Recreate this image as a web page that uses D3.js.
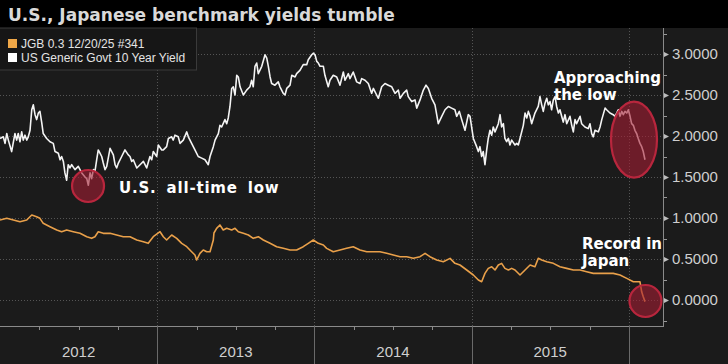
<!DOCTYPE html>
<html><head><meta charset="utf-8">
<script src="https://cdn.jsdelivr.net/npm/d3@7"></script>
<style>html,body{margin:0;padding:0;background:#000;}svg{display:block;}</style>
</head><body>
<svg id="c" width="728" height="364"></svg>
<script>
// ---- DATA (time = years since 1 Jan 2012) ----
const START_YEAR = 2012;
const yearLabels = ["2012","2013","2014","2015"];
const yTicks = [0, 0.5, 1, 1.5, 2, 2.5, 3];
const seriesNames = ["JGB 0.3 12/20/25 #341", "US Generic Govt 10 Year Yield"];

const usT = [0,.021,.032,.043,.053,.074,.095,.106,.116,.127,.138,.148,.159,.170,.180,.191,.202,.212,.223,.233,.244,.254,.265,.275,.297,.318,.339,.350,.371,.382,.392,.403,.413,.424,.434,.445,.456,.477,.498,.509,.520,.541,.552,.562,.573,.583,.594,.604,.615,.625,.636,.647,.657,.668,.679,.700,.721,.732,.742,.753,.774,.795,.816,.827,.838,.848,.870,.891,.912,.933,.954,.965,.975,.997,1.007,1.029,1.039,1.060,1.071,1.092,1.102,1.113,1.134,1.145,1.166,1.188,1.198,1.219,1.240,1.261,1.283,1.304,1.325,1.336,1.357,1.368,1.389,1.399,1.410,1.431,1.442,1.452,1.463,1.474,1.484,1.495,1.506,1.516,1.527,1.548,1.569,1.590,1.601,1.611,1.622,1.633,1.643,1.665,1.686,1.697,1.707,1.718,1.728,1.749,1.770,1.781,1.802,1.813,1.824,1.845,1.856,1.877,1.887,1.908,1.929,1.951,1.961,1.983,1.993,2.004,2.015,2.025,2.036,2.057,2.067,2.088,2.099,2.120,2.142,2.163,2.184,2.195,2.216,2.226,2.247,2.269,2.290,2.301,2.322,2.343,2.364,2.375,2.396,2.407,2.428,2.449,2.470,2.492,2.513,2.534,2.545,2.566,2.587,2.597,2.619,2.640,2.651,2.672,2.693,2.710,2.725,2.746,2.767,2.788,2.810,2.831,2.852,2.873,2.894,2.905,2.922,2.937,2.958,2.979,2.990,3.011,3.032,3.043,3.053,3.064,3.074,3.085,3.096,3.106,3.117,3.128,3.138,3.149,3.170,3.181,3.191,3.202,3.212,3.223,3.234,3.244,3.255,3.276,3.287,3.297,3.308,3.329,3.340,3.351,3.361,3.372,3.382,3.403,3.424,3.435,3.446,3.456,3.467,3.478,3.488,3.499,3.509,3.520,3.531,3.541,3.552,3.562,3.573,3.583,3.594,3.605,3.626,3.637,3.647,3.658,3.668,3.690,3.700,3.721,3.742,3.753,3.764,3.774,3.785,3.806,3.817,3.828,3.849,3.859,3.880,3.901,3.912,3.923,3.933,3.944,3.955,3.965,3.976,3.987,3.997,4.008,4.018,4.029,4.039,4.050,4.060,4.071,4.082,4.092,4.103];
const usYield = [1.97,1.99,1.91,2.03,1.95,1.81,2.03,1.95,2.03,1.93,2.05,1.95,2.01,1.95,1.99,2.07,2.32,2.38,2.26,2.20,2.28,2.30,2.17,2.03,1.97,1.93,1.91,1.81,1.79,1.71,1.75,1.69,1.55,1.46,1.65,1.61,1.65,1.59,1.63,1.59,1.55,1.50,1.48,1.40,1.55,1.48,1.59,1.57,1.71,1.83,1.79,1.75,1.67,1.59,1.63,1.85,1.77,1.65,1.61,1.67,1.75,1.83,1.77,1.75,1.69,1.71,1.61,1.65,1.69,1.61,1.75,1.71,1.81,1.75,1.89,1.83,1.83,1.87,1.97,1.99,1.95,2.01,1.99,1.91,1.95,2.05,1.99,1.91,1.83,1.75,1.73,1.71,1.65,1.75,1.87,1.95,2.03,2.13,2.11,2.20,2.15,2.22,2.36,2.58,2.60,2.50,2.74,2.72,2.60,2.50,2.56,2.60,2.68,2.60,2.85,2.89,2.76,2.85,2.99,2.95,2.85,2.72,2.64,2.62,2.66,2.60,2.52,2.50,2.58,2.62,2.74,2.72,2.76,2.80,2.87,2.87,2.93,2.99,3.01,2.99,2.91,2.89,2.85,2.85,2.74,2.60,2.68,2.74,2.72,2.62,2.78,2.68,2.76,2.70,2.78,2.66,2.64,2.70,2.68,2.64,2.52,2.58,2.50,2.46,2.60,2.64,2.62,2.60,2.52,2.56,2.46,2.52,2.56,2.48,2.42,2.44,2.34,2.44,2.56,2.62,2.58,2.46,2.38,2.15,2.24,2.32,2.36,2.34,2.32,2.24,2.30,2.20,2.07,2.26,2.24,1.97,1.87,1.81,1.87,1.75,1.81,1.65,1.83,1.97,2.07,2.01,2.11,2.05,2.15,2.26,2.11,2.15,1.97,1.93,1.97,1.89,1.95,1.89,1.91,1.89,1.97,2.13,2.28,2.22,2.30,2.24,2.15,2.28,2.36,2.48,2.38,2.30,2.40,2.46,2.38,2.42,2.32,2.44,2.48,2.36,2.28,2.32,2.24,2.17,2.26,2.15,2.24,2.13,2.05,2.20,2.15,2.24,2.15,2.11,2.09,2.15,2.03,1.99,2.07,2.05,2.11,2.20,2.34,2.32,2.28,2.26,2.24,2.28,2.32,2.24,2.30,2.26,2.30,2.28,2.32,2.24,2.15,2.13,2.07,2.03,1.97,1.91,1.87,1.81,1.71];

const jgbT = [0,.043,.085,.127,.170,.202,.233,.254,.275,.318,.361,.392,.424,.466,.509,.552,.583,.604,.625,.657,.700,.742,.784,.827,.870,.912,.943,.975,1.018,1.039,1.060,1.092,1.124,1.156,1.188,1.219,1.240,1.251,1.272,1.293,1.315,1.336,1.357,1.361,1.378,1.399,1.420,1.442,1.474,1.495,1.516,1.548,1.580,1.611,1.643,1.675,1.718,1.760,1.802,1.845,1.887,1.929,1.961,1.993,2.025,2.057,2.078,2.120,2.163,2.205,2.247,2.290,2.333,2.375,2.417,2.460,2.502,2.545,2.587,2.629,2.672,2.704,2.735,2.778,2.820,2.863,2.894,2.926,2.969,3.011,3.043,3.064,3.085,3.106,3.128,3.149,3.170,3.191,3.212,3.234,3.255,3.276,3.308,3.340,3.372,3.403,3.424,3.446,3.478,3.520,3.562,3.605,3.647,3.690,3.732,3.774,3.817,3.859,3.901,3.944,3.987,4.029,4.071,4.082,4.092,4.103];
const jgbYield = [0.976,0.996,0.976,0.955,0.976,1.037,1.016,0.996,0.935,0.894,0.854,0.833,0.854,0.833,0.813,0.772,0.752,0.772,0.833,0.813,0.813,0.793,0.772,0.772,0.732,0.711,0.691,0.772,0.833,0.772,0.732,0.793,0.752,0.691,0.650,0.589,0.549,0.488,0.569,0.610,0.589,0.589,0.732,0.817,0.874,0.915,0.854,0.874,0.854,0.874,0.833,0.813,0.793,0.752,0.772,0.732,0.691,0.650,0.630,0.610,0.610,0.650,0.691,0.732,0.691,0.671,0.630,0.589,0.610,0.630,0.650,0.610,0.589,0.589,0.589,0.569,0.549,0.528,0.528,0.508,0.528,0.569,0.528,0.488,0.467,0.508,0.447,0.427,0.366,0.305,0.244,0.223,0.325,0.386,0.406,0.366,0.427,0.447,0.386,0.366,0.386,0.366,0.305,0.366,0.427,0.406,0.508,0.488,0.467,0.447,0.406,0.386,0.366,0.366,0.345,0.325,0.325,0.325,0.325,0.305,0.264,0.223,0.223,0.10,0.04,-0.02];

// annotations: [t, value] in data space
const circles = [
  {t: 0.560, v: 1.39, rx: 16, ry: 16},
  {t: 4.033, v: 1.957, rx: 23, ry: 38},
  {t: 4.106, v: -0.012, rx: 16, ry: 16}
];
const notes = [
  {t: 0.757, v: 1.31, lines: ["U.S. all-time low"], ls: 0.8, ws: 4},
  {t: 3.524, v: 2.65, lines: ["Approaching", "the low"], ls: 0, ws: 0},
  {t: 3.702, v: 0.618, lines: ["Record in", "Japan"], ls: 0, ws: 0}
];

// ---- LAYOUT ----
const W = 728, H = 364, TOP = 28, PLOT_R = 663, PLOT_B = 326;
const svg = d3.select("#c");
const x = d3.scaleLinear().domain([0, 4]).range([0, 628.8]);
const y = d3.scaleLinear().domain([0, 3]).range([300, 54]);

svg.append("rect").attr("width", W).attr("height", H).attr("fill", "#000");
svg.append("rect").attr("y", TOP).attr("width", W).attr("height", H - TOP).attr("fill", "#1b1b1b");

svg.append("text").attr("x", 8).attr("y", 21)
  .attr("font-family", "DejaVu Sans").attr("font-weight", "bold").attr("font-size", 17)
  .attr("fill", "#d9d9d9").text("U.S., Japanese benchmark yields tumble");

// grid
const grid = svg.append("g").attr("stroke", "#555").attr("stroke-dasharray", "1,2").attr("stroke-width", 1);
grid.selectAll("line.h").data(yTicks).join("line").attr("class", "h")
  .attr("x1", 0).attr("x2", PLOT_R).attr("y1", d => Math.round(y(d)) + 0.5).attr("y2", d => Math.round(y(d)) + 0.5);
grid.selectAll("line.v").data([1, 2, 3, 4]).join("line").attr("class", "v")
  .attr("x1", d => Math.round(x(d)) + 0.5).attr("x2", d => Math.round(x(d)) + 0.5).attr("y1", TOP).attr("y2", PLOT_B);

// lines
const line = d3.line().x(d => x(d[0])).y(d => y(d[1]));
const jgb = jgbT.map((t, i) => [t, jgbYield[i]]);
const us = usT.map((t, i) => [t, usYield[i]]);
svg.append("path").datum(jgb).attr("d", line).attr("fill", "none")
  .attr("stroke", "#e9a04a").attr("stroke-width", 1.6).attr("stroke-linejoin", "round");
svg.append("path").datum(us).attr("d", line).attr("fill", "none")
  .attr("stroke", "#f4f4f4").attr("stroke-width", 1.6).attr("stroke-linejoin", "round");

// right axis
const axisG = svg.append("g").attr("transform", `translate(${PLOT_R},0)`)
  .call(d3.axisRight(y).tickValues(yTicks).tickFormat(d3.format(".4f")).tickSize(0).tickPadding(9));
axisG.select(".domain").remove();
axisG.selectAll("text").attr("font-family", "Liberation Sans").attr("font-size", 15).attr("fill", "#cfcfcf");
axisG.selectAll(".tick").append("path").attr("d", "M1,-2.5L6,0L1,2.5Z").attr("fill", "#bdbdbd");
const minor = d3.range(-0.25, 3.3, 0.25).filter(v => !yTicks.includes(v));
svg.append("g").selectAll("line").data(minor).join("line")
  .attr("x1", PLOT_R).attr("x2", PLOT_R + 4).attr("y1", d => Math.round(y(d)) + 0.5).attr("y2", d => Math.round(y(d)) + 0.5)
  .attr("stroke", "#999");
svg.append("line").attr("x1", PLOT_R + 0.5).attr("x2", PLOT_R + 0.5).attr("y1", TOP).attr("y2", PLOT_B)
  .attr("stroke", "#8a8a8a");

// bottom axis
svg.append("line").attr("x1", 0).attr("x2", PLOT_R + 1).attr("y1", PLOT_B + 0.5).attr("y2", PLOT_B + 0.5).attr("stroke", "#8a8a8a");
const quarters = d3.range(0.25, 4.2, 0.25).filter(q => Math.abs(q - Math.round(q)) > 0.01 && x(q) < PLOT_R);
svg.append("g").selectAll("line").data(quarters).join("line")
  .attr("x1", d => Math.round(x(d)) + 0.5).attr("x2", d => Math.round(x(d)) + 0.5)
  .attr("y1", PLOT_B).attr("y2", PLOT_B + 4).attr("stroke", "#8a8a8a");
svg.append("g").selectAll("line").data([1, 2, 3, 4]).join("line")
  .attr("x1", d => Math.round(x(d)) + 0.5).attr("x2", d => Math.round(x(d)) + 0.5)
  .attr("y1", PLOT_B).attr("y2", H).attr("stroke", "#6a6a6a");
svg.append("g").selectAll("text").data(yearLabels).join("text")
  .attr("x", (d, i) => x(i + 0.5)).attr("y", 357).attr("text-anchor", "middle")
  .attr("font-family", "Liberation Sans").attr("font-size", 15).attr("fill", "#cfcfcf").text(d => d);

// annotation circles
svg.append("g").selectAll("ellipse").data(circles).join("ellipse")
  .attr("cx", d => x(d.t)).attr("cy", d => y(d.v)).attr("rx", d => d.rx).attr("ry", d => d.ry)
  .attr("fill", "rgba(165,30,52,0.6)").attr("stroke", "#b8263d").attr("stroke-width", 2.2);

// annotation text
const nt = svg.append("g").selectAll("text").data(notes).join("text")
  .attr("x", d => x(d.t)).attr("y", d => y(d.v))
  .attr("letter-spacing", d => d.ls).attr("word-spacing", d => d.ws)
  .attr("font-family", "DejaVu Sans").attr("font-weight", "bold").attr("font-size", 15).attr("fill", "#ffffff");
nt.selectAll("tspan").data(d => d.lines.map(l => ({l, t: d.t}))).join("tspan")
  .attr("x", d => x(d.t)).attr("dy", (d, i) => i ? 17 : 0).text(d => d.l);

// legend
const lg = svg.append("g");
lg.append("rect").attr("x", -1).attr("y", TOP).attr("width", 197.5).attr("height", 42)
  .attr("fill", "#161616").attr("stroke", "#3a3a3a");
const colors = ["#f0a848", "#ffffff"];
seriesNames.forEach((n, i) => {
  lg.append("rect").attr("x", 8).attr("y", 39 + i * 14).attr("width", 9).attr("height", 9).attr("fill", colors[i]);
  lg.append("text").attr("x", 21).attr("y", 48 + i * 14)
    .attr("font-family", "Liberation Sans").attr("font-size", 12).attr("fill", "#e4e4e4").text(n);
});
</script>
</body></html>
